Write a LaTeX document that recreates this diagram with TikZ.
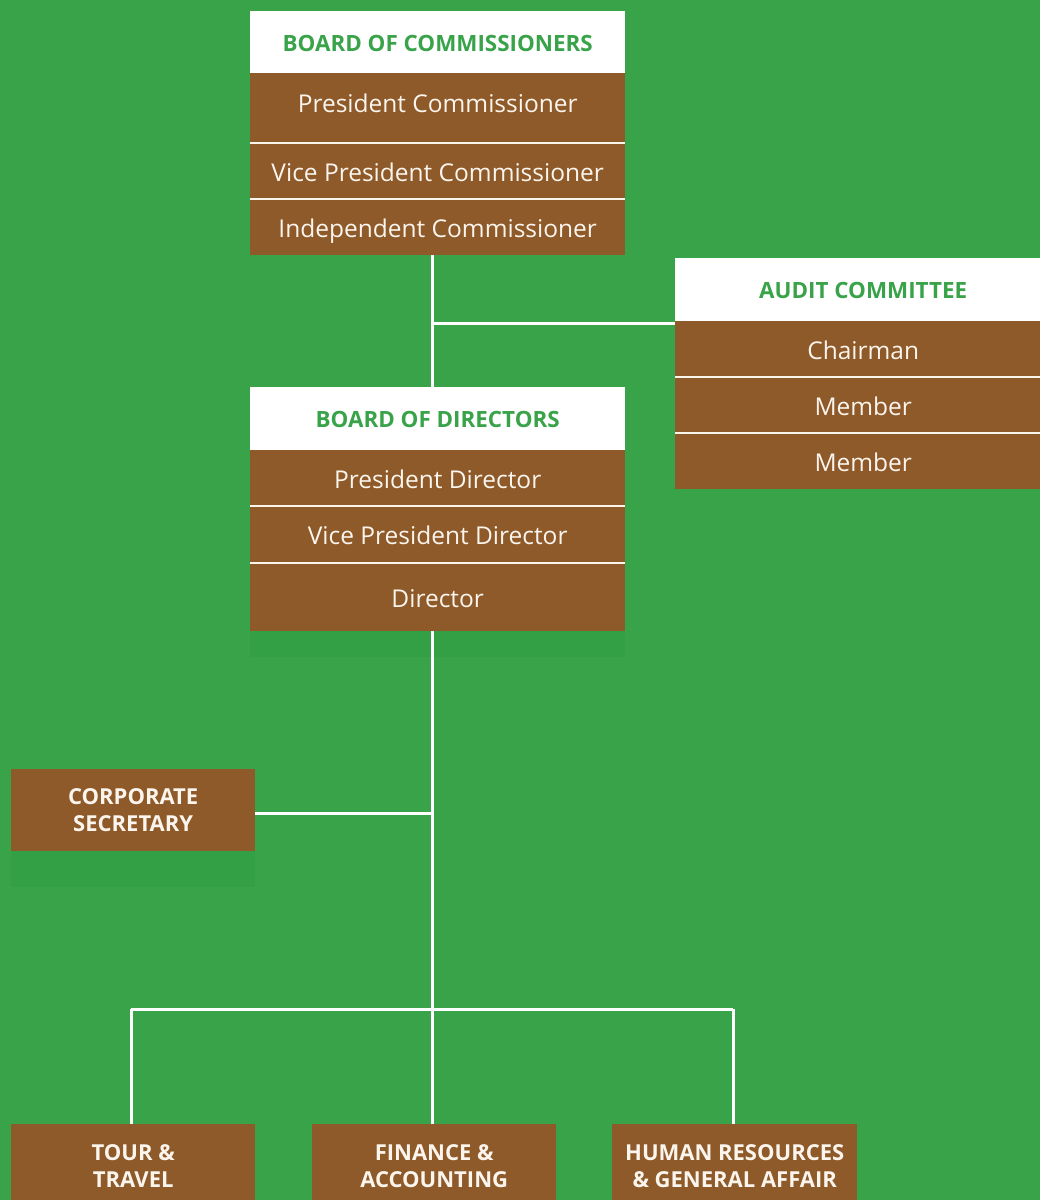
\documentclass[tikz,border=0pt]{standalone}
\usepackage{fontspec}
\setmainfont{Open Sans}
\definecolor{bggreen}{HTML}{39A34A}
\definecolor{shadegreen}{HTML}{34A046}
\definecolor{boxbrown}{HTML}{8E5A29}
\definecolor{txtwhite}{HTML}{FBF5EE}
\begin{document}
\begin{tikzpicture}[x=1pt,y=-1pt,
  row/.style={fill=boxbrown, draw=none, inner sep=0pt, anchor=north west, text=txtwhite, font=\fontsize{24.5}{28}\selectfont, text height=20pt, text depth=0pt},
  head/.style={fill=white, draw=none, inner sep=0pt, anchor=north west, text=bggreen, font=\fontsize{22.4}{26}\selectfont\bfseries, text height=18.5pt, text depth=0pt},
  unit/.style={fill=boxbrown, draw=none, inner sep=0pt, anchor=north west, text=txtwhite, font=\fontsize{22}{26.5}\selectfont\bfseries, align=center},
  sep/.style={draw=txtwhite, line width=2pt},
  link/.style={draw=white, line width=3pt}]
\fill[bggreen] (0,0) rectangle (1040,1200);
\useasboundingbox (0,0) rectangle (1040,1200);
% faint shades
\fill[shadegreen] (250,631) rectangle (625,657);
\fill[shadegreen] (11,851) rectangle (255,887);
% Board of Commissioners
\node[head, minimum width=375, minimum height=62] (bch) at (250,11) {BOARD OF COMMISSIONERS};
\node[row, minimum width=375, minimum height=70] (pc) at (250,73) {\raisebox{6pt}{President Commissioner}};
\node[row, minimum width=375, minimum height=56] (vpc) at (250,143) {Vice President Commissioner};
\node[row, minimum width=375, minimum height=56] (ic) at (250,199) {Independent Commissioner};
\draw[sep] (pc.south west) -- (pc.south east);
\draw[sep] (vpc.south west) -- (vpc.south east);
% Audit Committee
\node[head, minimum width=376, minimum height=63] (ach) at (675,258) {AUDIT COMMITTEE};
\node[row, minimum width=376, minimum height=56] (ch) at (675,321) {Chairman};
\node[row, minimum width=376, minimum height=56] (m1) at (675,377) {Member};
\node[row, minimum width=376, minimum height=56] (m2) at (675,433) {Member};
\draw[sep] (ch.south west) -- (ch.south east);
\draw[sep] (m1.south west) -- (m1.south east);
% Board of Directors
\node[head, minimum width=375, minimum height=63] (bdh) at (250,387) {BOARD OF DIRECTORS};
\node[row, minimum width=375, minimum height=56] (pd) at (250,450) {President Director};
\node[row, minimum width=375, minimum height=57] (vpd) at (250,506) {Vice President Director};
\node[row, minimum width=375, minimum height=68] (dir) at (250,563) {Director};
\draw[sep] (pd.south west) -- (pd.south east);
\draw[sep] (vpd.south west) -- (vpd.south east);
% Corporate secretary
\node[unit, minimum width=244, minimum height=82] (cs) at (11,769) {CORPORATE\\SECRETARY};
% Bottom units
\node[unit, minimum width=244, minimum height=84] (tt) at (11,1124) {TOUR \&\\TRAVEL};
\node[unit, minimum width=244, minimum height=84] (fa) at (312,1124) {FINANCE \&\\ACCOUNTING};
\node[unit, minimum width=245, minimum height=84] (hr) at (612,1124) {HUMAN RESOURCES\\\& GENERAL AFFAIR};
% junctions
\coordinate (j1) at (432,323);
\coordinate (j2) at (432,813);
\coordinate (jl) at (131,1009);
\coordinate (jr) at (733,1009);
% connectors
\draw[link] (ic.south -| j1) -- (bdh.north -| j1);
\draw[link] (j1) -- (ach.west |- j1);
\draw[link] (dir.south -| j2) -- (fa.north -| j2);
\draw[link] (cs.east |- j2) -- (j2);
\draw[link] (jl) -- (jr);
\draw[link] (jl) -- (tt.north -| jl);
\draw[link] (jr) -- (hr.north -| jr);
\end{tikzpicture}
\end{document}
